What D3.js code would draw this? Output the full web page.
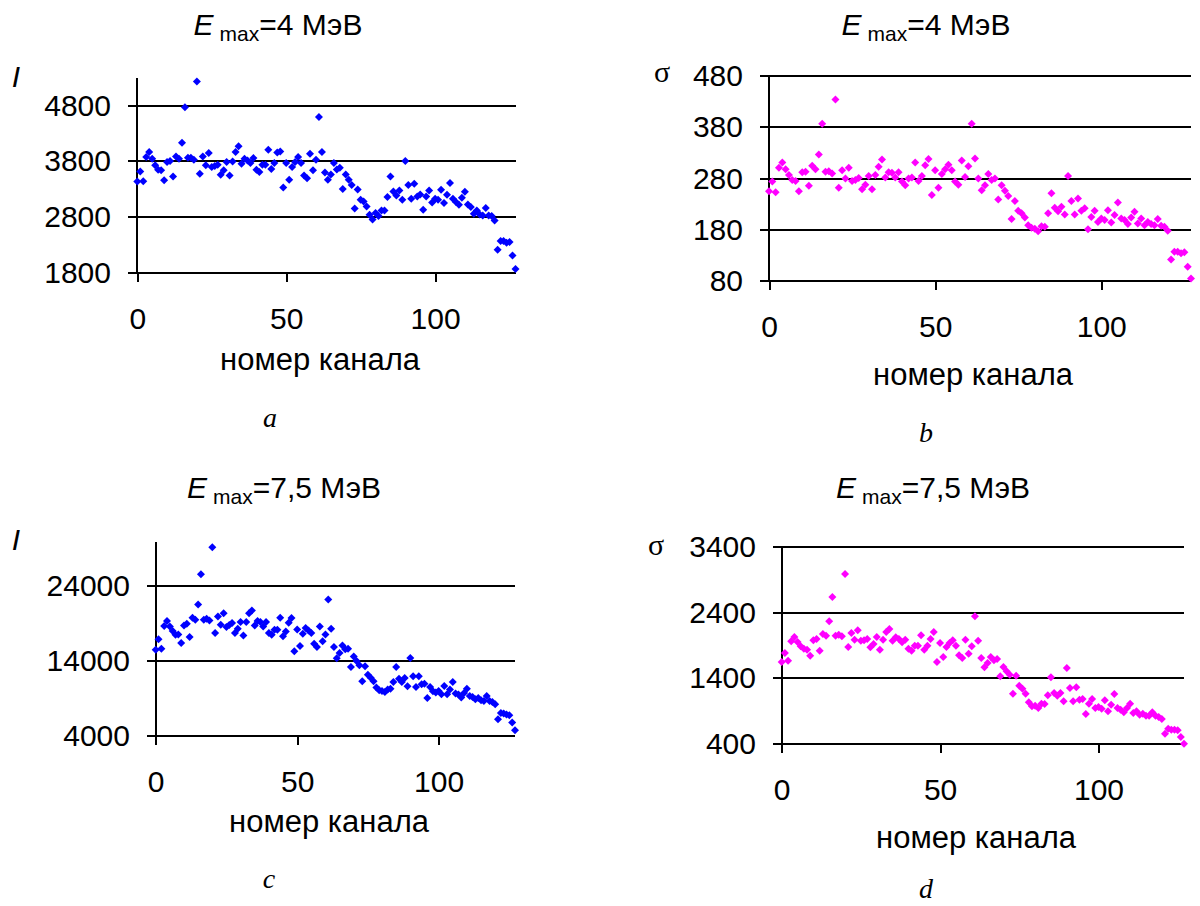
<!DOCTYPE html>
<html>
<head>
<meta charset="utf-8">
<script src="https://cdn.jsdelivr.net/npm/d3@7"></script>
<style>
  body { margin: 0; background: #fff; }
  text { font-family: "Liberation Sans", Arial, sans-serif; }
  line { shape-rendering: crispEdges; }
</style>
</head>
<body>
<svg id="chart" width="1200" height="906"></svg>
<script>
// I, Emax = 4 MeV (channels 0..127)
const intensity4 = [
  3440, 3620, 3446, 3878, 3968, 3850, 3730, 3650, 3640, 3460, 3790, 3806, 3530, 3890, 3850, 4135,
  4776, 3866, 3866, 3830, 5238, 3578, 3890, 3730, 3950, 3700, 3716, 3740, 3560, 3640, 3790, 3548,
  3800, 3968, 4075, 3758, 3850, 3818, 3770, 3860, 3650, 3608, 3740, 3740, 4010, 3662, 3770, 3962,
  3980, 3332, 3770, 3470, 3700, 3790, 3880, 3770, 3548, 3500, 3938, 3640, 3830, 4597, 3968, 3600,
  3470, 3566, 3770, 3656, 3686, 3303, 3566, 3470, 3375, 2955, 3297, 3111, 3081, 2991, 2842, 2758,
  2872, 2818, 2920, 2920, 3159, 3530, 3261, 3189, 3279, 3111, 3806, 3375, 3129, 3399, 3171, 3207,
  2931, 3171, 3279, 3063, 3129, 3111, 3291, 3051, 3201, 3411, 3129, 3069, 3021, 3147, 3255, 3027,
  2979, 2860, 2920, 2848, 2830, 2961, 2830, 2818, 2740, 2213, 2368, 2368, 2338, 2350, 2111, 1865
];
// sigma, Emax = 4 MeV
const sigma4 = [
  255, 274, 253, 301, 311, 298, 287, 277, 275, 255, 292, 293, 266, 305, 298, 327,
  387, 293, 294, 290, 434, 262, 296, 280, 301, 275, 277, 281, 259, 268, 285, 259,
  287, 303, 317, 282, 292, 291, 282, 292, 274, 267, 280, 282, 311, 275, 285, 306,
  318, 248, 296, 262, 289, 298, 307, 296, 274, 268, 315, 283, 304, 387, 319, 280,
  257, 267, 289, 277, 280, 239, 267, 256, 246, 201, 236, 217, 212, 204, 189, 184,
  182, 177, 187, 186, 212, 251, 223, 216, 225, 210, 285, 236, 210, 241, 217, 222,
  181, 205, 217, 195, 202, 199, 218, 194, 209, 233, 202, 199, 191, 204, 215, 192,
  202, 189, 195, 191, 189, 201, 188, 186, 178, 122, 137, 137, 134, 136, 108, 85
];
// I, Emax = 7,5 MeV
const intensity75 = [
  15510, 16900, 15650, 18680, 19350, 18630, 18010, 17520, 17560, 16400, 18770, 18990, 17210, 19790, 19520, 21570,
  25630, 19520, 19660, 19430, 29230, 17740, 19970, 18860, 20410, 18540, 18810, 19080, 17740, 18320, 19210, 17430,
  19210, 20410, 20770, 18770, 19350, 19210, 18630, 19210, 17740, 17520, 18190, 18190, 19790, 17300, 17960, 19120,
  19750, 15290, 18230, 16000, 17650, 18410, 18100, 17740, 16320, 15870, 18630, 16630, 17560, 22240, 18320, 15870,
  14360, 15070, 16090, 15560, 15650, 13200, 14620, 14000, 13420, 11280, 13290, 12170, 11770, 11280, 10440, 10080,
  9990, 9860, 10170, 10300, 11190, 13200, 11640, 11190, 11730, 10620, 14400, 11950, 10530, 11950, 10880, 10970,
  9060, 10530, 9950, 9770, 9990, 9550, 10660, 9550, 10170, 11190, 9640, 9500, 9100, 9720, 10300, 9320,
  9190, 8880, 9060, 8740, 8660, 9320, 8660, 8520, 8210, 6210, 7050, 6960, 6830, 6740, 5760, 4740
];
// sigma, Emax = 7,5 MeV
const sigma75 = [
  1649, 1786, 1669, 1963, 2029, 1953, 1887, 1852, 1837, 1745, 1979, 1999, 1821, 2075, 2050, 2268,
  2639, 2050, 2065, 2040, 2989, 1877, 2090, 1989, 2131, 1974, 1979, 1999, 1872, 1923, 2029, 1837,
  1989, 2106, 2151, 1974, 2024, 1999, 1948, 1989, 1852, 1821, 1897, 1897, 2055, 1837, 1897, 1999,
  2106, 1649, 1938, 1725, 1877, 1938, 1979, 1897, 1750, 1710, 1989, 1776, 1887, 2344, 1974, 1710,
  1567, 1633, 1725, 1674, 1694, 1430, 1573, 1507, 1456, 1167, 1441, 1288, 1243, 1167, 1035, 974,
  984, 948, 1014, 1009, 1141, 1415, 1177, 1136, 1177, 1050, 1557, 1253, 1050, 1263, 1075, 1085,
  857, 1014, 1085, 948, 963, 938, 1065, 897, 999, 1161, 948, 923, 882, 948, 1014, 872,
  897, 847, 862, 831, 831, 882, 831, 811, 781, 557, 634, 618, 618, 608, 507, 405
];

const xTicks = [0, 50, 100];
const ticksA = [1800, 2800, 3800, 4800];
const ticksB = [80, 180, 280, 380, 480];
const ticksC = [4000, 14000, 24000];
const ticksD = [400, 1400, 2400, 3400];

const xLabel = "номер канала";

const svg = d3.select("#chart");

function drawPanel(p) {
  const g = svg.append("g");

  const x = d3.scaleLinear().domain([0, 127]).range([p.l, p.r]);
  const y = d3.scaleLinear().domain(p.yDomain).range([p.b, p.t]);

  // gridlines
  g.selectAll(".grid")
    .data(p.yTicks.slice(1))
    .enter()
    .append("line")
    .attr("x1", p.l)
    .attr("x2", p.r)
    .attr("y1", d => Math.round(y(d)))
    .attr("y2", d => Math.round(y(d)))
    .attr("stroke", "#000")
    .attr("stroke-width", 2);

  // y axis
  const yAxis = g.append("g")
    .attr("transform", "translate(" + Math.round(p.l) + ",0)")
    .call(d3.axisLeft(y).tickValues(p.yTicks).tickSize(9).tickPadding(17).tickFormat(d3.format("d")));
  yAxis.select(".domain").remove();
  yAxis.selectAll(".tick").attr("transform", d => "translate(0," + Math.round(y(d)) + ")");
  yAxis.selectAll("line").attr("stroke-width", 2);
  yAxis.selectAll("text")
    .attr("fill", "#000")
    .style("font-size", "30px")
    .style("font-family", "'Liberation Sans', Arial, sans-serif");

  // x axis
  const xAxis = g.append("g")
    .attr("transform", "translate(0," + Math.round(p.b) + ")")
    .call(d3.axisBottom(x).tickValues(xTicks).tickSize(9).tickPadding(26).tickFormat(d3.format("d")));
  xAxis.select(".domain").remove();
  xAxis.selectAll("line").attr("stroke-width", 2);
  xAxis.selectAll("text")
    .attr("fill", "#000")
    .style("font-size", "30px")
    .style("font-family", "'Liberation Sans', Arial, sans-serif");

  // axis lines
  g.append("line")
    .attr("x1", Math.round(p.l)).attr("x2", Math.round(p.l))
    .attr("y1", Math.round(p.t)).attr("y2", Math.round(p.b) + 1)
    .attr("stroke", "#000").attr("stroke-width", 2);
  g.append("line")
    .attr("x1", Math.round(p.l) - 9).attr("x2", p.r)
    .attr("y1", Math.round(p.b)).attr("y2", Math.round(p.b))
    .attr("stroke", "#000").attr("stroke-width", 2);

  // points
  const diamond = d3.symbol().type(d3.symbolSquare).size(32);
  g.selectAll(".pt")
    .data(p.values)
    .enter()
    .append("path")
    .attr("d", diamond)
    .attr("transform", (d, i) => "translate(" + x(i) + "," + y(d) + ") rotate(45)")
    .attr("fill", p.color);

  // title
  const t = g.append("text")
    .attr("x", p.titleX)
    .attr("y", p.titleY)
    .attr("text-anchor", "middle")
    .style("font-size", "30px");
  t.append("tspan").style("font-style", "italic").text("E");
  t.append("tspan").attr("dx", 6).attr("dy", 6).style("font-size", "21px").text("max");
  t.append("tspan").attr("dy", -6).text("=" + p.energy + " МэВ");

  // y axis name
  g.append("text")
    .attr("x", p.yNameX)
    .attr("y", p.yNameY)
    .attr("text-anchor", "middle")
    .style("font-size", "30px")
    .style("font-style", p.yNameItalic ? "italic" : "normal")
    .style("font-family", p.yNameSerif ? "'Liberation Serif', serif" : null)
    .text(p.yName);

  // x axis name
  g.append("text")
    .attr("x", p.xNameX)
    .attr("y", p.xNameY)
    .attr("text-anchor", "middle")
    .style("font-size", "31px")
    .text(xLabel);

  // panel letter
  g.append("text")
    .attr("x", p.letterX)
    .attr("y", p.letterY)
    .attr("text-anchor", "middle")
    .style("font-size", "28px")
    .style("font-style", "italic")
    .style("font-family", "'Liberation Serif', serif")
    .text(p.letter);
}

drawPanel({
  values: intensity4, color: "#0000ff",
  l: 137.3, r: 515.5, t: 78, b: 272.7,
  yDomain: [1800, 5300], yTicks: ticksA,
  energy: "4", titleX: 278, titleY: 35,
  yName: "I", yNameItalic: true, yNameX: 16, yNameY: 87,
  xNameX: 320, xNameY: 370,
  letter: "a", letterX: 270, letterY: 427
});

drawPanel({
  values: sigma4, color: "#ff00ff",
  l: 769, r: 1191, t: 76, b: 281,
  yDomain: [80, 480], yTicks: ticksB,
  energy: "4", titleX: 926, titleY: 35,
  yName: "σ", yNameSerif: true, yNameX: 662, yNameY: 82,
  xNameX: 973, xNameY: 385,
  letter: "b", letterX: 926, letterY: 442
});

drawPanel({
  values: intensity75, color: "#0000ff",
  l: 155.7, r: 515, t: 541.5, b: 735.7,
  yDomain: [4000, 30000], yTicks: ticksC,
  energy: "7,5", titleX: 284, titleY: 498,
  yName: "I", yNameItalic: true, yNameX: 16, yNameY: 550,
  xNameX: 329, xNameY: 832,
  letter: "c", letterX: 269, letterY: 888
});

drawPanel({
  values: sigma75, color: "#ff00ff",
  l: 781.7, r: 1184, t: 547, b: 744,
  yDomain: [400, 3400], yTicks: ticksD,
  energy: "7,5", titleX: 933, titleY: 498,
  yName: "σ", yNameSerif: true, yNameX: 656, yNameY: 555,
  xNameX: 976, xNameY: 848,
  letter: "d", letterX: 926, letterY: 898
});
</script>
</body>
</html>
